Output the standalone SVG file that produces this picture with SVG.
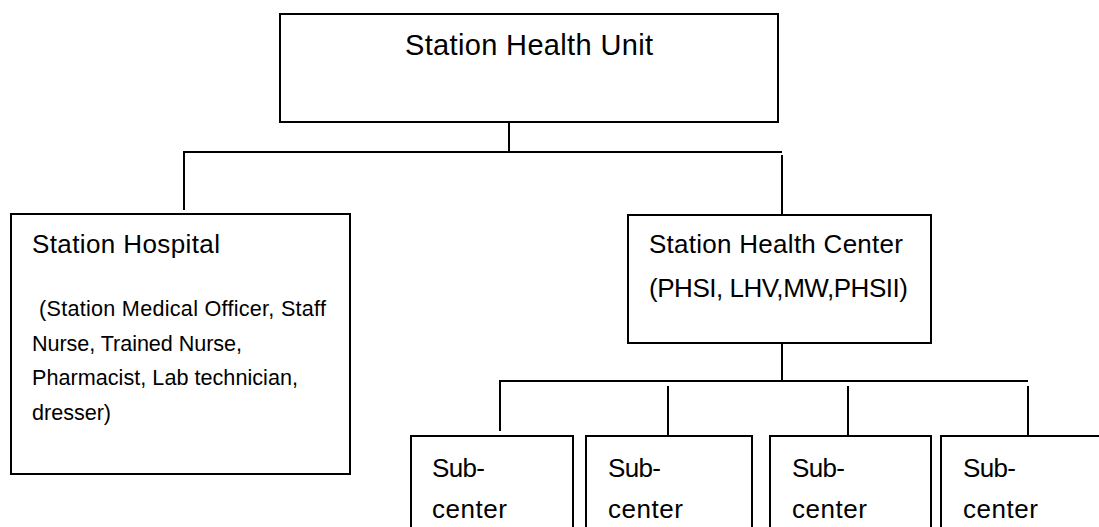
<svg xmlns="http://www.w3.org/2000/svg" width="1099" height="527" viewBox="0 0 1099 527">
  <style>
    .box { fill: #ffffff; stroke: #000000; stroke-width: 2; }
    .conn { fill: none; stroke: #000000; stroke-width: 2; }
    text { font-family: "Liberation Sans", Arial, sans-serif; fill: #000000; }
    .title { font-size: 29px; }
    .head { font-size: 26px; }
    .body { font-size: 21.6px; }
    .sub { font-size: 26px; }
  </style>
  <rect width="1099" height="527" fill="#ffffff"/>

  <g id="connectors">
    <path class="conn" d="M509,117 V152"/>
    <path class="conn" d="M184,210 V152 H782"/>
    <path class="conn" d="M782,155 V215"/>
    <path class="conn" d="M782,343 V381"/>
    <path class="conn" d="M500,431 V381 H1028"/>
    <path class="conn" d="M668,386 V436"/>
    <path class="conn" d="M848,386 V436"/>
    <path class="conn" d="M1028,386 V436"/>
  </g>

  <g id="station-health-unit">
    <rect class="box" x="280" y="14" width="498" height="108"/>
    <text class="title" x="405" y="55" textLength="248">Station Health Unit</text>
  </g>

  <g id="station-hospital">
    <rect class="box" x="11" y="214" width="339" height="260"/>
    <text class="head" x="32" y="253" textLength="188">Station Hospital</text>
    <text class="body" x="39" y="316" textLength="287">(Station Medical Officer, Staff</text>
    <text class="body" x="32" y="350.5" textLength="210">Nurse, Trained Nurse,</text>
    <text class="body" x="32" y="385" textLength="266">Pharmacist, Lab technician,</text>
    <text class="body" x="32" y="419.5" textLength="79">dresser)</text>
  </g>

  <g id="station-health-center">
    <rect class="box" x="628" y="215" width="303" height="128"/>
    <text class="head" x="649" y="253" textLength="254">Station Health Center</text>
    <text class="head" x="649" y="297" textLength="259">(PHSI, LHV,MW,PHSII)</text>
  </g>

  <g id="sub-center-1">
    <rect class="box" x="411" y="436" width="162" height="110"/>
    <text class="sub" x="432" y="477" textLength="53">Sub-</text>
    <text class="sub" x="432" y="518" textLength="75">center</text>
  </g>

  <g id="sub-center-2">
    <rect class="box" x="586" y="436" width="166" height="110"/>
    <text class="sub" x="608" y="477" textLength="53">Sub-</text>
    <text class="sub" x="608" y="518" textLength="75">center</text>
  </g>

  <g id="sub-center-3">
    <rect class="box" x="770" y="436" width="161" height="110"/>
    <text class="sub" x="792" y="477" textLength="53">Sub-</text>
    <text class="sub" x="792" y="518" textLength="75">center</text>
  </g>

  <g id="sub-center-4">
    <rect class="box" x="941" y="436" width="200" height="110"/>
    <text class="sub" x="963" y="477" textLength="53">Sub-</text>
    <text class="sub" x="963" y="518" textLength="75">center</text>
  </g>
</svg>
